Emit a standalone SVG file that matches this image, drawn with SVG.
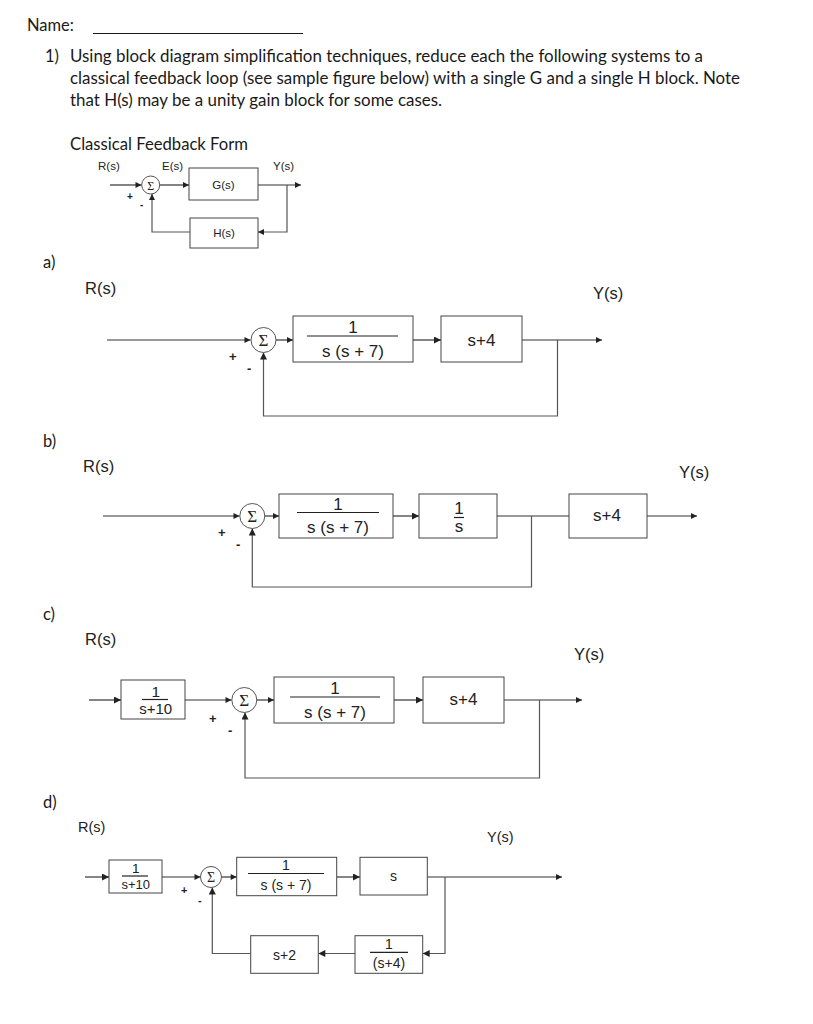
<svg xmlns="http://www.w3.org/2000/svg" width="813" height="1024" viewBox="0 0 813 1024">
<defs>
<marker id="ah" viewBox="0 0 10 10" refX="10" refY="5" markerUnits="userSpaceOnUse" markerWidth="10" markerHeight="7" orient="auto">
<path d="M0,0 L10,5 L0,10 z" fill="#222"/>
</marker>
<marker id="ahs" viewBox="0 0 10 10" refX="10" refY="5" markerUnits="userSpaceOnUse" markerWidth="8" markerHeight="6" orient="auto">
<path d="M0,0 L10,5 L0,10 z" fill="#222"/>
</marker>
<style>
.hd{font-family:Lato,"Open Sans",sans-serif;font-size:16.5px;fill:#1a1a1a}
.lb{font-family:"Liberation Sans",Arial,sans-serif;fill:#222}
.sg{font-family:"Liberation Serif","DejaVu Serif",serif;fill:#222;text-anchor:middle}
.w{stroke:#333;stroke-width:1.2;fill:none}
.fb{stroke:#555;stroke-width:1.2;fill:none}
.bx{stroke:#444;stroke-width:1;fill:#fff}
.cir{stroke:#555;stroke-width:1;fill:#fff}
.bar{stroke:#222;stroke-width:1.2}
.m{text-anchor:middle}
.pm{font-family:"Liberation Sans",Arial,sans-serif;font-weight:bold;fill:#222}
</style>
</defs>

<g id="header">
<text class="hd" x="27" y="31">Name:</text>
<line x1="93" y1="33.5" x2="303" y2="33.5" stroke="#1a1a1a" stroke-width="1"/>
<text class="hd" x="45" y="62">1)</text>
<text class="hd" x="70" y="62" textLength="633" lengthAdjust="spacingAndGlyphs">Using block diagram simplification techniques, reduce each the following systems to a</text>
<text class="hd" x="70" y="84" textLength="670" lengthAdjust="spacingAndGlyphs">classical feedback loop (see sample figure below) with a single G and a single H block. Note</text>
<text class="hd" x="70" y="106" textLength="372" lengthAdjust="spacingAndGlyphs">that H(s) may be a unity gain block for some cases.</text>
<text class="hd" x="70" y="150" textLength="178" lengthAdjust="spacingAndGlyphs">Classical Feedback Form</text>
<text class="hd" x="43" y="268">a)</text>
<text class="hd" x="43" y="447">b)</text>
<text class="hd" x="43" y="620">c)</text>
<text class="hd" x="43" y="808">d)</text>
</g>

<!-- Classical feedback form -->
<g id="classical">
<g id="cf-connectors">
<path class="w" d="M110,185 H141.5" marker-end="url(#ahs)"/>
<path class="w" d="M160,185 H189" marker-end="url(#ahs)"/>
<path class="w" d="M258,185 H301" marker-end="url(#ahs)"/>
<path class="fb" d="M287,185 V232 H258" marker-end="url(#ahs)"/>
<path class="fb" d="M190,232 H152 V194" marker-end="url(#ahs)"/>
</g>
<g id="cf-sum"><circle class="cir" cx="150.7" cy="185" r="9"/><text class="sg" x="150.7" y="189.5" font-size="12">Σ</text></g>
<g id="cf-G"><rect class="bx" x="189" y="168" width="69" height="32"/><text class="lb m" x="223.5" y="189" font-size="11.5">G(s)</text></g>
<g id="cf-H"><rect class="bx" x="190" y="218" width="68" height="30"/><text class="lb m" x="224" y="237" font-size="11.5">H(s)</text></g>
<text class="lb" x="98" y="170" font-size="11.5">R(s)</text>
<text class="lb" x="162" y="170" font-size="11.5">E(s)</text>
<text class="lb" x="273" y="170" font-size="11.5">Y(s)</text>
<text class="pm" x="127" y="200" font-size="10">+</text>
<text class="pm" x="140" y="208" font-size="10">-</text>
</g>

<!-- a) -->
<g id="diagram-a">
<g id="a-connectors">
<path class="w" d="M107,340 H250.5" marker-end="url(#ahs)"/>
<path class="w" d="M276,340 H293" marker-end="url(#ahs)"/>
<path class="w" d="M413,340 H441" marker-end="url(#ah)"/>
<path class="w" d="M522,340 H602" marker-end="url(#ahs)"/>
<path class="fb" d="M557.5,340 V416 H263.5 V352.5" marker-end="url(#ah)"/>
</g>
<g id="a-sum"><circle class="cir" cx="263.5" cy="340" r="12.5"/><text class="sg" x="263.5" y="346" font-size="17">Σ</text></g>
<g id="a-G1"><rect class="bx" x="293" y="316" width="120" height="46"/><line class="bar" x1="307" y1="336" x2="398" y2="336"/><text class="lb m" x="353" y="333" font-size="17">1</text><text class="lb m" x="353" y="356.5" font-size="17">s (s + 7)</text></g>
<g id="a-G2"><rect class="bx" x="441" y="316" width="81" height="46"/><text class="lb m" x="481.5" y="346" font-size="17">s+4</text></g>
<text class="lb" x="85" y="294" font-size="16.5">R(s)</text>
<text class="lb" x="593" y="299" font-size="16.5">Y(s)</text>
<text class="pm" x="229" y="361" font-size="13">+</text>
<text class="pm" x="247" y="373" font-size="13">-</text>
</g>

<!-- b) -->
<g id="diagram-b">
<g id="b-connectors">
<path class="w" d="M103,516 H239.5" marker-end="url(#ahs)"/>
<path class="w" d="M265,516 H279" marker-end="url(#ahs)"/>
<path class="w" d="M393,516 H419" marker-end="url(#ah)"/>
<path class="w" d="M497,516 H569"/>
<path class="w" d="M647,516 H697" marker-end="url(#ahs)"/>
<path class="fb" d="M531.5,516 V587 H252.3 V528.5" marker-end="url(#ah)"/>
</g>
<g id="b-sum"><circle class="cir" cx="252.3" cy="516" r="12.5"/><text class="sg" x="252.3" y="522" font-size="17">Σ</text></g>
<g id="b-G1"><rect class="bx" x="279" y="494" width="114" height="44"/><line class="bar" x1="297" y1="512.5" x2="379" y2="512.5"/><text class="lb m" x="338" y="510" font-size="17">1</text><text class="lb m" x="338" y="532.5" font-size="17">s (s + 7)</text></g>
<g id="b-G2"><rect class="bx" x="419" y="494" width="78" height="44"/><line class="bar" x1="454" y1="517.5" x2="464" y2="517.5"/><text class="lb m" x="459" y="514" font-size="17">1</text><text class="lb m" x="459" y="532" font-size="17">s</text></g>
<g id="b-G3"><rect class="bx" x="569" y="494" width="78" height="44"/><text class="lb m" x="607" y="521" font-size="17">s+4</text></g>
<text class="lb" x="83" y="472" font-size="16.5">R(s)</text>
<text class="lb" x="679" y="478" font-size="16.5">Y(s)</text>
<text class="pm" x="218" y="537" font-size="13">+</text>
<text class="pm" x="236" y="549" font-size="13">-</text>
</g>

<!-- c) -->
<g id="diagram-c">
<g id="c-connectors">
<path class="w" d="M89,700 H121" marker-end="url(#ah)"/>
<path class="w" d="M185,700 H231.5" marker-end="url(#ahs)"/>
<path class="w" d="M257,700 H274" marker-end="url(#ahs)"/>
<path class="w" d="M394,700 H423" marker-end="url(#ah)"/>
<path class="w" d="M504,700 H582" marker-end="url(#ahs)"/>
<path class="fb" d="M539.5,700 V778 H245 V712.5" marker-end="url(#ah)"/>
</g>
<g id="c-pre"><rect class="bx" x="121" y="680" width="64" height="39"/><line class="bar" x1="142" y1="699.5" x2="168" y2="699.5"/><text class="lb m" x="155.7" y="697" font-size="15.5">1</text><text class="lb m" x="155.7" y="714" font-size="15">s+10</text></g>
<g id="c-sum"><circle class="cir" cx="244.3" cy="700" r="12.5"/><text class="sg" x="244.3" y="706" font-size="17">Σ</text></g>
<g id="c-G1"><rect class="bx" x="274" y="677" width="120" height="46"/><line class="bar" x1="290" y1="697" x2="380" y2="697"/><text class="lb m" x="335" y="694" font-size="17">1</text><text class="lb m" x="335" y="717.5" font-size="17">s (s + 7)</text></g>
<g id="c-G2"><rect class="bx" x="423" y="677" width="81" height="46"/><text class="lb m" x="463.5" y="705" font-size="17">s+4</text></g>
<text class="lb" x="85" y="645" font-size="16.5">R(s)</text>
<text class="lb" x="574" y="660" font-size="16.5">Y(s)</text>
<text class="pm" x="209" y="723" font-size="13">+</text>
<text class="pm" x="228" y="735" font-size="13">-</text>
</g>

<!-- d) -->
<g id="diagram-d">
<g id="d-connectors">
<path class="w" d="M85,877 H109" marker-end="url(#ah)"/>
<path class="w" d="M162,877 H200.5" marker-end="url(#ahs)"/>
<path class="w" d="M221.5,877 H236.7" marker-end="url(#ahs)"/>
<path class="w" d="M336.7,877 H360" marker-end="url(#ah)"/>
<path class="w" d="M427.3,877 H562" marker-end="url(#ahs)"/>
<path class="fb" d="M445,877 V953.5 H422.7" marker-end="url(#ah)"/>
<path class="fb" d="M355,953.5 H318.3" marker-end="url(#ah)"/>
<path class="fb" d="M250.7,953.5 H212.3 V887.5" marker-end="url(#ah)"/>
</g>
<g id="d-pre"><rect class="bx" x="109" y="860" width="53" height="33"/><line class="bar" x1="122" y1="876" x2="148" y2="876"/><text class="lb m" x="135.7" y="873" font-size="13.5">1</text><text class="lb m" x="135.7" y="888.5" font-size="13">s+10</text></g>
<g id="d-sum"><circle class="cir" cx="211" cy="877" r="10.5"/><text class="sg" x="211" y="882" font-size="14">Σ</text></g>
<g id="d-G1"><rect class="bx" x="236.7" y="857.3" width="100" height="38.4"/><line class="bar" x1="248" y1="873.5" x2="324" y2="873.5"/><text class="lb m" x="286" y="870" font-size="14">1</text><text class="lb m" x="286" y="890" font-size="14">s (s + 7)</text></g>
<g id="d-G2"><rect class="bx" x="360" y="857.3" width="67.3" height="37.7"/><text class="lb m" x="393.5" y="881" font-size="14">s</text></g>
<g id="d-H1"><rect class="bx" x="355" y="935.7" width="67.7" height="37.6"/><line class="bar" x1="370" y1="952.3" x2="408" y2="952.3"/><text class="lb m" x="389" y="949" font-size="14">1</text><text class="lb m" x="389" y="968" font-size="14">(s+4)</text></g>
<g id="d-H2"><rect class="bx" x="250.7" y="935.7" width="67.6" height="37.6"/><text class="lb m" x="284.5" y="960" font-size="14">s+2</text></g>
<text class="lb" x="78" y="832" font-size="14.5">R(s)</text>
<text class="lb" x="487" y="842" font-size="14.5">Y(s)</text>
<text class="pm" x="181" y="894" font-size="11">+</text>
<text class="pm" x="198" y="904" font-size="11">-</text>
</g>
</svg>
